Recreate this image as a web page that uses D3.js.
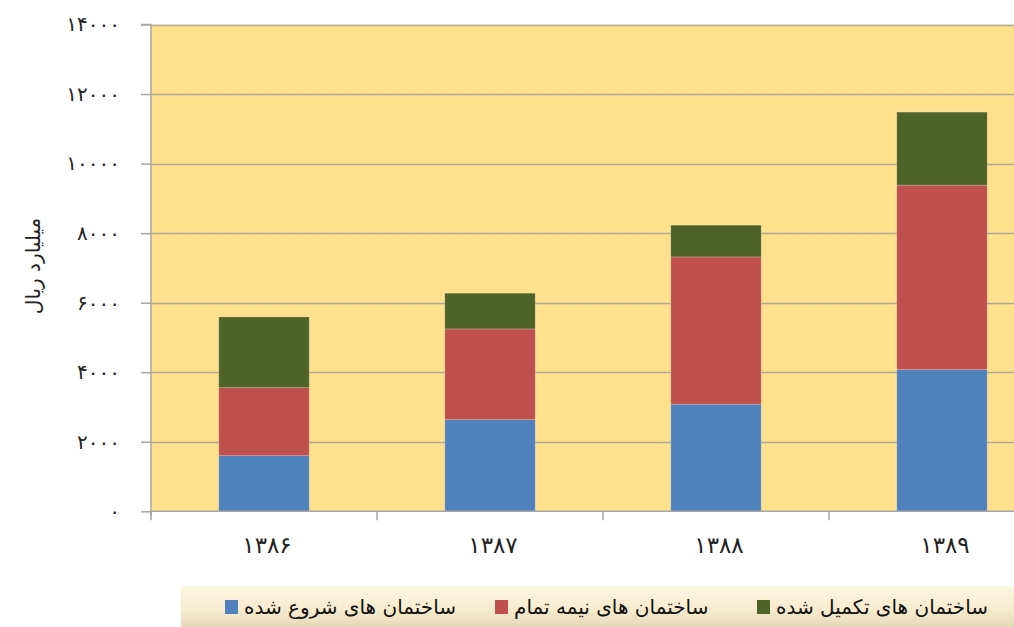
<!DOCTYPE html>
<meta charset="utf-8">
<style>
body { margin: 0; background: #fff; overflow: hidden; }
svg { display: block; font-family: 'DejaVu Sans', sans-serif; }
.tick text { fill: #222; }
.leg { font-size: 20px; fill: #111; }
</style>
<body>
<div id="chart"></div>
<script src="https://cdn.jsdelivr.net/npm/d3@7/dist/d3.min.js"></script>
<script>
// data (milliard rials)
var years = ['1386', '1387', '1388', '1389'];
var yearLabels = ['۱۳۸۶', '۱۳۸۷', '۱۳۸۸', '۱۳۸۹'];
var started = [1600, 2635, 3080, 4075];
var unfinished = [1956, 2610, 4236, 5305];
var completed = [2034, 1027, 912, 2100];
var seriesNames = ['ساختمان های شروع شده', 'ساختمان های نیمه تمام', 'ساختمان های تکمیل شده'];
var seriesColors = ['#4F81BD', '#C0504D', '#4F6228'];
var yTicks = [0, 2000, 4000, 6000, 8000, 10000, 12000, 14000];

var faDigits = '۰۱۲۳۴۵۶۷۸۹';
function fa(n) { return String(n).replace(/\d/g, function(c) { return faDigits[+c]; }); }

var W = 1014, H = 627;
var m = { left: 151, top: 24.5, right: 1055, bottom: 511.3 };

var svg = d3.select('#chart').append('svg')
  .attr('width', W).attr('height', H);

var rows = years.map(function(y, i) {
  return { year: y, s0: started[i], s1: unfinished[i], s2: completed[i] };
});
var stacked = d3.stack().keys(['s0', 's1', 's2'])(rows);

var x = d3.scaleBand().domain(years).range([m.left, m.right])
  .paddingInner(0.6).paddingOuter(0.3);
var y = d3.scaleLinear().domain([0, 14000]).range([m.bottom, m.top]);

// plot background
svg.append('rect')
  .attr('x', m.left).attr('y', m.top)
  .attr('width', m.right - m.left).attr('height', m.bottom - m.top)
  .attr('fill', '#FEE08D');

// gridlines
svg.append('g').selectAll('line').data(yTicks.slice(1)).enter().append('line')
  .attr('x1', m.left).attr('x2', m.right)
  .attr('y1', function(d) { return Math.round(y(d)) + 0.5; })
  .attr('y2', function(d) { return Math.round(y(d)) + 0.5; })
  .attr('stroke', '#ADA89A').attr('stroke-width', 1.5);

// bars
svg.append('g').selectAll('g').data(stacked).enter().append('g')
  .attr('fill', function(d, i) { return seriesColors[i]; })
  .selectAll('rect').data(function(d) { return d; }).enter().append('rect')
  .attr('x', function(d) { return x(d.data.year); })
  .attr('width', x.bandwidth())
  .attr('y', function(d) { return y(d[1]); })
  .attr('height', function(d) { return y(d[0]) - y(d[1]); })
  .attr('stroke', 'rgba(255,255,255,0.25)').attr('stroke-width', 0.8);

// y axis
var yAxis = d3.axisLeft(y).tickValues(yTicks).tickSize(10).tickPadding(21)
  .tickFormat(function(d) { return fa(d); });
var gy = svg.append('g').attr('transform', 'translate(' + m.left + ',0)').call(yAxis);
gy.select('.domain').attr('stroke', '#A6A6A6').attr('stroke-width', 1.5)
  .attr('d', 'M-10,' + m.top + 'H0V' + (m.bottom + 5));
gy.selectAll('.tick line').attr('stroke', '#A6A6A6').attr('stroke-width', 1.5);
gy.selectAll('.tick text').style('font-size', '20px').style('letter-spacing', '10px')
  .attr('font-family', 'DejaVu Sans');

// x axis
var x0 = d3.scaleBand().domain(years).range([m.left, m.right]);
svg.append('g').selectAll('line').data(years).enter().append('line')
  .attr('x1', function(d) { return x0(d); }).attr('x2', function(d) { return x0(d); })
  .attr('y1', m.bottom).attr('y2', m.bottom + 9)
  .attr('stroke', '#A6A6A6').attr('stroke-width', 1.5);
svg.append('line')
  .attr('x1', m.left).attr('x2', m.right).attr('y1', m.bottom).attr('y2', m.bottom)
  .attr('stroke', '#A6A6A6').attr('stroke-width', 1.5);
svg.append('g').selectAll('text').data(years).enter().append('text')
  .attr('x', function(d) { return x(d) + x.bandwidth() / 2 + 3; })
  .attr('y', 553)
  .attr('text-anchor', 'middle')
  .style('font-size', '23px').style('letter-spacing', '6px').attr('fill', '#222')
  .text(function(d, i) { return yearLabels[i]; });

// y axis title
svg.append('text')
  .attr('transform', 'translate(40,266) rotate(-90)')
  .attr('text-anchor', 'middle')
  .style('font-size', '20px').attr('fill', '#222')
  .text('میلیارد ریال');

// legend
var grad = svg.append('defs').append('linearGradient')
  .attr('id', 'lg').attr('x1', 0).attr('x2', 0).attr('y1', 0).attr('y2', 1);
grad.append('stop').attr('offset', '0%').attr('stop-color', '#FDF6E3');
grad.append('stop').attr('offset', '55%').attr('stop-color', '#F8ECCF');
grad.append('stop').attr('offset', '100%').attr('stop-color', '#E6D9BA');
svg.append('rect').attr('x', 181).attr('y', 586).attr('width', W - 181).attr('height', H - 586)
  .attr('fill', 'url(#lg)');

var legX = [238, 508, 770];
var lg = svg.append('g').selectAll('g').data(seriesNames).enter().append('g');
lg.append('rect')
  .attr('x', function(d, i) { return legX[i] - 13; }).attr('y', 600)
  .attr('width', 13).attr('height', 14)
  .attr('fill', function(d, i) { return seriesColors[i]; });
lg.append('text').attr('class', 'leg')
  .attr('x', function(d, i) { return legX[i] + 6; }).attr('y', 614)
  .attr('direction', 'rtl').attr('text-anchor', 'end')
  .text(function(d) { return d; });
</script>
</body>
